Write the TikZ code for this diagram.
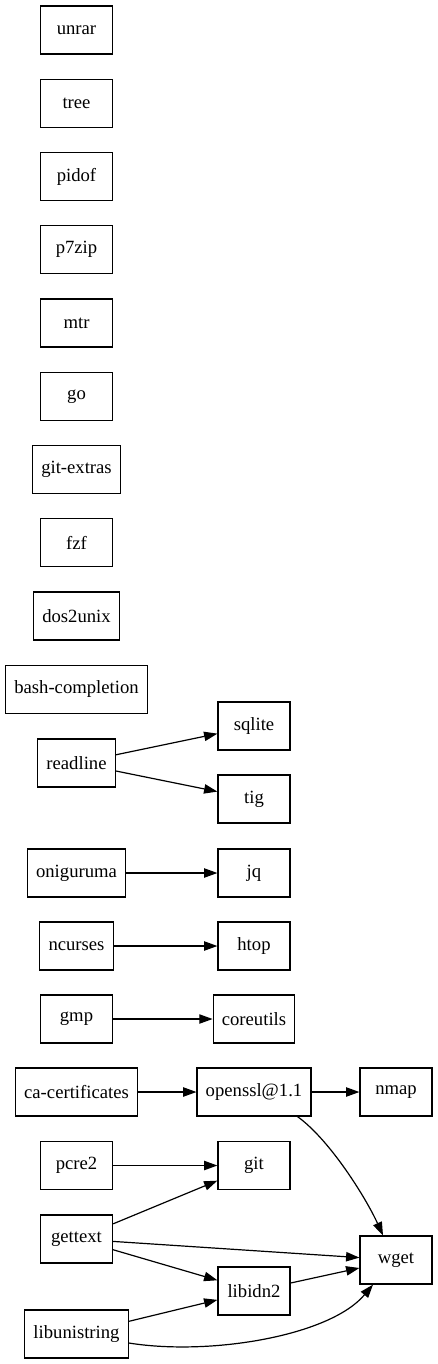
\documentclass[tikz,border=0pt]{standalone}
\usepackage{fontspec}
\setmainfont{Liberation Serif}
\usetikzlibrary{arrows.meta}
\begin{document}
\begin{tikzpicture}[x=0.75pt,y=-0.75pt,
  pkg/.style={draw, line width=0.9pt, minimum width=54pt, minimum height=36pt,
    inner xsep=6.5pt, inner ysep=0pt, font=\fontsize{14pt}{16pt}\selectfont},
  dep/.style={line width=0.9pt, -{Triangle[length=10pt,width=7pt]}}]
\useasboundingbox (0,0) rectangle (437,1364);
% left column
\node[pkg] (unrar) at (76.5,30) {unrar};
\node[pkg] (tree) at (76.5,103.25) {tree};
\node[pkg] (pidof) at (76.5,176.5) {pidof};
\node[pkg] (p7zip) at (76.5,249.75) {p7zip};
\node[pkg] (mtr) at (76.5,323) {mtr};
\node[pkg] (go) at (76.5,396.25) {go};
\node[pkg] (gitextras) at (76.5,469.5) {git-extras};
\node[pkg] (fzf) at (76.5,542.75) {fzf};
\node[pkg] (dos2unix) at (76.5,616) {dos2unix};
\node[pkg] (bash) at (76.5,689.25) {bash-completion};
\node[pkg] (readline) at (76.5,763) {readline};
\node[pkg] (oniguruma) at (76.5,873) {oniguruma};
\node[pkg] (ncurses) at (76.5,946) {ncurses};
\node[pkg] (gmp) at (76.5,1019) {gmp};
\node[pkg] (cacert) at (76.5,1092) {ca-certificates};
\node[pkg] (pcre2) at (76.5,1165.5) {pcre2};
\node[pkg] (gettext) at (76.5,1239) {gettext};
\node[pkg] (libunistring) at (76.5,1334) {libunistring};
% middle column
\node[pkg] (sqlite) at (254,726) {sqlite};
\node[pkg] (tig) at (254,799) {tig};
\node[pkg] (jq) at (254,873) {jq};
\node[pkg] (htop) at (254,946) {htop};
\node[pkg] (coreutils) at (254,1019) {coreutils};
\node[pkg] (openssl) at (254,1092) {openssl@1.1};
\node[pkg] (git) at (254,1165.5) {git};
\node[pkg] (libidn2) at (254,1291) {libidn2};
% right column
\node[pkg] (nmap) at (396,1092) {nmap};
\node[pkg] (wget) at (396,1260) {wget};
% edges
\draw[dep] (readline) -- (sqlite);
\draw[dep] (readline) -- (tig);
\draw[dep] (oniguruma) -- (jq);
\draw[dep] (ncurses) -- (htop);
\draw[dep] (gmp) -- (coreutils);
\draw[dep] (cacert) -- (openssl);
\draw[dep] (openssl) -- (nmap);
\draw[dep] (pcre2) -- (git);
\draw[dep] (gettext) -- (git);
\draw[dep] (gettext) -- (wget);
\draw[dep] (gettext) -- (libidn2);
\draw[dep] (libunistring) -- (libidn2);
\draw[dep] (libidn2) -- (wget);
\draw[dep] (openssl.south east) ++(-14,0) coordinate (os)
  (os) .. controls (330,1140) and (366,1198) .. (wget.north west -| 383,0);
\draw[dep] (libunistring.east) ++(0,9) coordinate (lu)
  (lu) .. controls (210,1356) and (330,1336) .. (wget.south west -| 373,0);
\end{tikzpicture}
\end{document}
